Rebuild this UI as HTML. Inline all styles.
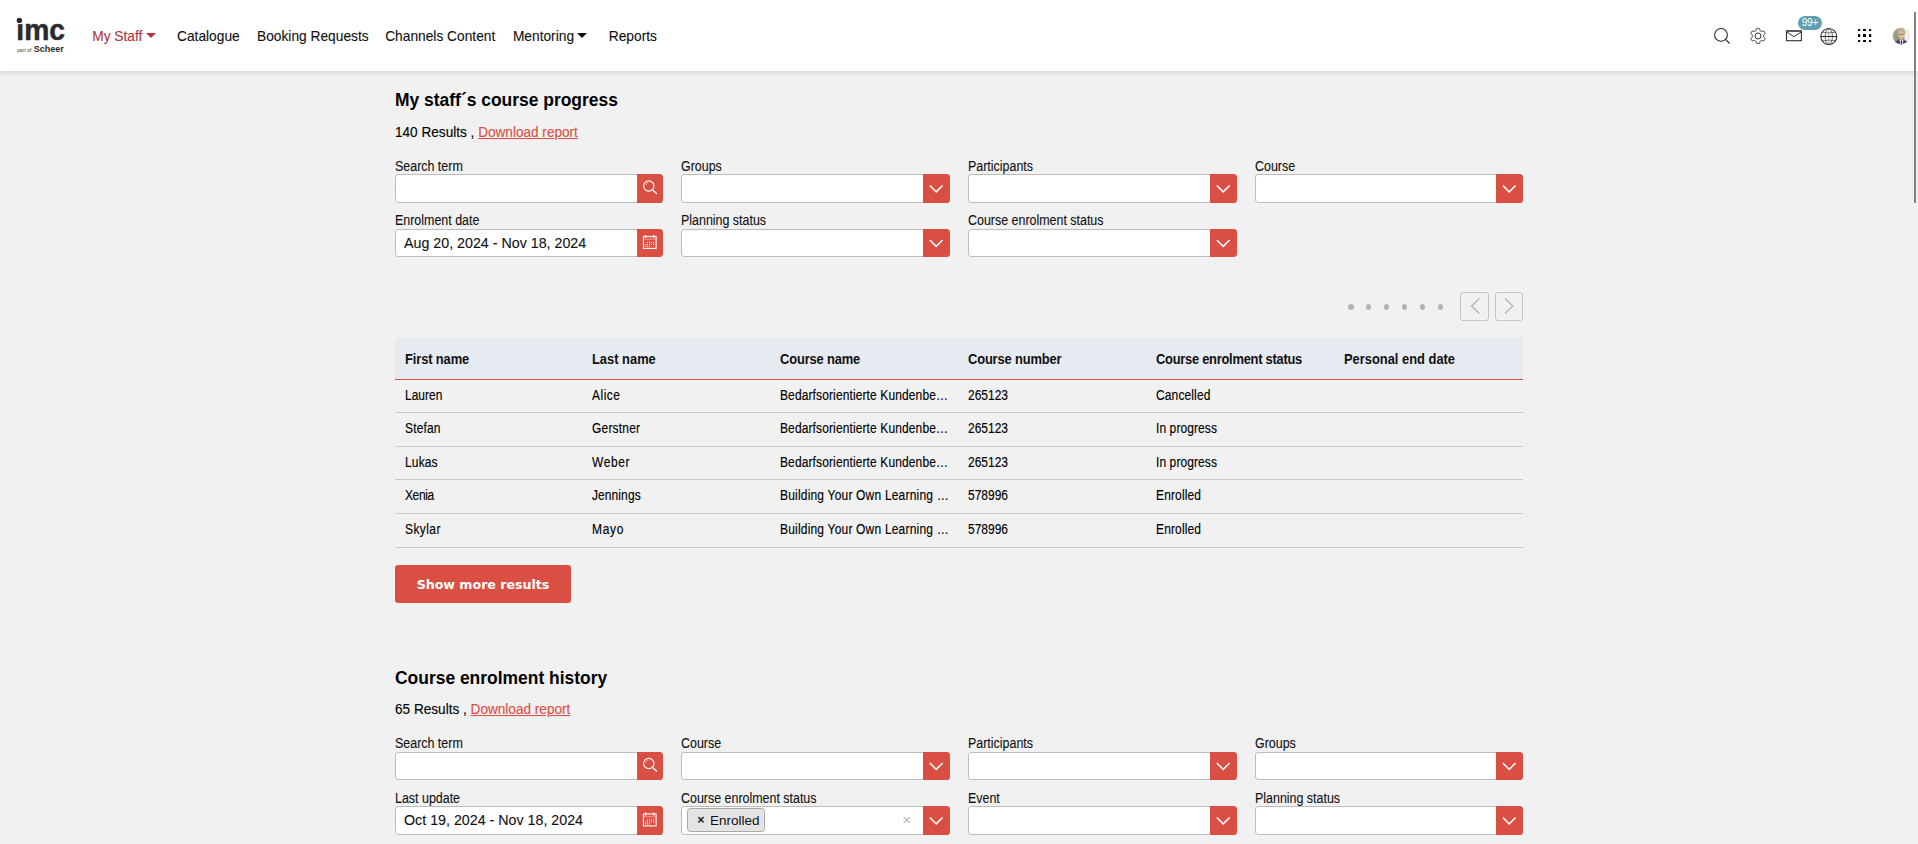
<!DOCTYPE html>
<html lang="en">
<head>
<meta charset="utf-8">
<title>My Staff</title>
<style>
*{box-sizing:border-box;margin:0;padding:0}
html,body{width:1918px;height:844px;overflow:hidden}
body{background:#f1f1f1;font-family:"Liberation Sans",Arial,sans-serif;color:#111;font-size:13.5px;position:relative}
/* header */
.hdr{position:absolute;left:0;top:0;width:1918px;height:71px;background:#fff;box-shadow:0 1px 6px rgba(0,0,0,.145);z-index:5}
.logo{position:absolute;left:0;top:0}
.nav{position:absolute;top:0;left:0;height:71px;font-size:13.75px;color:#1a1a1a}
.nav a{-webkit-text-stroke:.1px;position:absolute;top:29px;white-space:nowrap;line-height:16px;color:#111;text-decoration:none;}
.nav a.act{color:#b0343b}
.caret{display:inline-block;width:0;height:0;border-left:5px solid transparent;border-right:5px solid transparent;border-top:5.2px solid currentColor;vertical-align:middle;margin-left:3.4px;position:relative;top:-1.4px}
.ico{position:absolute}
.badge{position:absolute;left:1798px;top:16px;width:24px;height:14px;border-radius:7px;background:#5e9fb0;color:#fff;font-size:10px;line-height:13px;text-align:center;letter-spacing:-.1px}
.avatar{position:absolute;left:1892px;top:27px;width:18px;height:18px;border-radius:50%;overflow:hidden;background:#d9d6c8}
.sb{position:absolute;left:1914px;top:12px;width:2px;height:191px;background:#828282;z-index:9}
/* content */
.sec{position:absolute;left:395px;width:1128px}
h2{position:absolute;left:0;font-size:17.45px;font-weight:bold;line-height:20px;white-space:nowrap;color:#000;}
.res{position:absolute;left:0;transform:scaleY(1.03);transform-origin:0 12.5px;font-size:13.6px;line-height:16px;white-space:nowrap;color:#000;-webkit-text-stroke:.12px}
.res a{color:#d94f43;text-decoration:underline}
.fld{position:absolute;width:268.5px}
.fld label{-webkit-text-stroke:.1px;display:block;transform:scaleY(1.13);transform-origin:0 11px;font-size:12.45px;line-height:14px;color:#111;height:14px;white-space:nowrap}
.box{position:absolute;left:0;top:14px;width:100%;height:28.5px;background:#fff;border:1px solid #bcbcbc;border-radius:3.2px}
.btn{position:absolute;right:-1px;top:-1px;width:26px;height:29px;background:#d94f43;border-radius:0 3.6px 3.6px 0}
.btn svg{position:absolute;left:0;top:0;overflow:visible}
.val{-webkit-text-stroke:.1px;position:absolute;left:8px;top:0;line-height:27px;font-size:14.25px;color:#111;white-space:nowrap}

.pager{position:absolute;left:0;top:292px;width:1128px;height:29px}
.pager i{position:absolute;top:12px;width:6px;height:6px;border-radius:50%;background:#b3b3b3}
.pager b{position:absolute;top:0;width:29px;height:29px;border:1px solid #c4c4c4;border-radius:3px}
.pager b svg{position:absolute;left:-1px;top:-1px}
.tbl{position:absolute;left:0;top:338px;width:1128px}
.th{position:absolute;left:0;top:0;width:1128px;height:42px;background:#e6eaf1;border-bottom:1px solid #d94f43;font-weight:bold;font-size:12.9px}
.th span{position:absolute;top:14px;transform:scaleY(1.063);transform-origin:0 12.5px;line-height:16px;white-space:nowrap;color:#111}
.tr{position:absolute;left:0;width:1128px;border-bottom:1px solid #c9c9c9;font-size:12px}
.tr span{position:absolute;top:8px;transform:scaleY(1.143);transform-origin:0 12px;line-height:16px;white-space:nowrap;color:#000;-webkit-text-stroke:.12px}
.more{position:absolute;left:0;top:565px;width:176px;height:38px;background:#d94f43;border-radius:3px;color:#fff;font-family:"DejaVu Sans",sans-serif;font-weight:bold;font-size:12.6px;line-height:40px;text-align:center}
.tag{position:absolute;left:5.4px;top:1.3px;height:23.4px;border:1px solid #a9a9a9;border-radius:3.5px;background:#e4e4e4;font-size:13.5px;line-height:24.3px;padding:0 4.2px 0 0;color:#111;white-space:nowrap}
.tag em{font-style:normal;font-weight:bold;display:inline-block;width:21.6px;padding-left:4.5px;text-align:center;font-size:12.5px;border-right:1px solid #efe6e0;margin-right:0;color:#222;height:21px;line-height:22px;vertical-align:top}
.clr{position:absolute;right:38px;top:-.5px;line-height:26px;font-size:15px;color:#b0b4bb}
</style>
</head>
<body>
<div class="hdr">
  <svg class="logo" width="80" height="71" viewBox="0 0 80 71">
    <text x="16.3" y="40" font-family="Liberation Sans, sans-serif" font-weight="bold" font-size="29.6" fill="#2b2b2d" stroke="#2b2b2d" stroke-width=".55" textLength="48.7" lengthAdjust="spacingAndGlyphs">imc</text>
    <rect x="15.5" y="17" width="8" height="7.1" fill="#fff"/><circle cx="19.4" cy="20.4" r="2.7" fill="#2b2b2d"/>
    <text x="17" y="51.5" font-family="Liberation Sans, sans-serif" font-size="5.2" fill="#444" textLength="14.5" lengthAdjust="spacingAndGlyphs">part of</text>
    <text x="33.8" y="51.6" font-family="Liberation Sans, sans-serif" font-weight="bold" font-size="9.6" fill="#2b2b2d" textLength="30" lengthAdjust="spacingAndGlyphs">Scheer</text>
  </svg>
  <div class="nav">
    <a class="act" style="left:92.2px">My Staff<span class="caret"></span></a>
    <a style="left:177px">Catalogue</a>
    <a style="left:257px">Booking Requests</a>
    <a style="left:385.2px">Channels Content</a>
    <a style="left:512.9px">Mentoring<span class="caret"></span></a>
    <a style="left:608.8px">Reports</a>
  </div>
  <svg class="ico" style="left:0;top:0" width="1918" height="71" viewBox="0 0 1918 71" fill="none" stroke="#2e2e2e" stroke-width="1.1">
<circle cx="1721" cy="34.9" r="6.4"/><path d="M1725.5 39.4 L1729.6 43.5" stroke-width="1.2"/>
<path d="M1758.00 28.35 L1758.33 28.36 L1758.66 28.38 L1758.99 28.42 L1759.32 28.47 L1759.56 28.93 L1759.72 29.53 L1759.84 30.12 L1759.95 30.59 L1760.18 30.68 L1760.41 30.78 L1760.63 30.89 L1760.85 31.01 L1761.06 31.14 L1761.27 31.28 L1761.47 31.43 L1761.66 31.58 L1762.13 31.45 L1762.70 31.25 L1763.30 31.09 L1763.82 31.06 L1764.03 31.32 L1764.23 31.59 L1764.41 31.87 L1764.58 32.15 L1764.74 32.44 L1764.89 32.74 L1765.02 33.04 L1765.14 33.35 L1764.86 33.79 L1764.42 34.23 L1763.96 34.63 L1763.61 34.96 L1763.65 35.21 L1763.68 35.45 L1763.69 35.70 L1763.70 35.95 L1763.69 36.20 L1763.68 36.45 L1763.65 36.69 L1763.61 36.94 L1763.96 37.27 L1764.42 37.67 L1764.86 38.11 L1765.14 38.55 L1765.02 38.86 L1764.89 39.16 L1764.74 39.46 L1764.58 39.75 L1764.41 40.03 L1764.23 40.31 L1764.03 40.58 L1763.82 40.84 L1763.30 40.81 L1762.70 40.65 L1762.13 40.45 L1761.66 40.32 L1761.47 40.47 L1761.27 40.62 L1761.06 40.76 L1760.85 40.89 L1760.63 41.01 L1760.41 41.12 L1760.18 41.22 L1759.95 41.31 L1759.84 41.78 L1759.72 42.37 L1759.56 42.97 L1759.32 43.43 L1758.99 43.48 L1758.66 43.52 L1758.33 43.54 L1758.00 43.55 L1757.67 43.54 L1757.34 43.52 L1757.01 43.48 L1756.68 43.43 L1756.44 42.97 L1756.28 42.37 L1756.16 41.78 L1756.05 41.31 L1755.82 41.22 L1755.59 41.12 L1755.37 41.01 L1755.15 40.89 L1754.94 40.76 L1754.73 40.62 L1754.53 40.47 L1754.34 40.32 L1753.87 40.45 L1753.30 40.65 L1752.70 40.81 L1752.18 40.84 L1751.97 40.58 L1751.77 40.31 L1751.59 40.03 L1751.42 39.75 L1751.26 39.46 L1751.11 39.16 L1750.98 38.86 L1750.86 38.55 L1751.14 38.11 L1751.58 37.67 L1752.04 37.27 L1752.39 36.94 L1752.35 36.69 L1752.32 36.45 L1752.31 36.20 L1752.30 35.95 L1752.31 35.70 L1752.32 35.45 L1752.35 35.21 L1752.39 34.96 L1752.04 34.63 L1751.58 34.23 L1751.14 33.79 L1750.86 33.35 L1750.98 33.04 L1751.11 32.74 L1751.26 32.44 L1751.42 32.15 L1751.59 31.87 L1751.77 31.59 L1751.97 31.32 L1752.18 31.06 L1752.70 31.09 L1753.30 31.25 L1753.87 31.45 L1754.34 31.58 L1754.53 31.43 L1754.73 31.28 L1754.94 31.14 L1755.15 31.01 L1755.37 30.89 L1755.59 30.78 L1755.82 30.68 L1756.05 30.59 L1756.16 30.12 L1756.28 29.53 L1756.44 28.93 L1756.68 28.47 L1757.01 28.42 L1757.34 28.38 L1757.67 28.36 Z" stroke-linejoin="round" stroke-width="1"/><circle cx="1758" cy="35.95" r="3" stroke-width="1"/>
<rect x="1786.5" y="31" width="14.9" height="9.7" stroke-width="1.1"/><path d="M1786 31 H1802" stroke-width="1.8" stroke="#555"/><path d="M1786.8 32 L1793.9 36.7 L1801.2 32" stroke-width="1"/>
<circle cx="1828.8" cy="36.5" r="8"/><ellipse cx="1828.8" cy="36.5" rx="3.6" ry="8" stroke-width=".7"/><path d="M1820.8 36.5 H1836.8" stroke-width="1.1"/><path d="M1828.8 28.5 V44.5" stroke-width=".4"/><path d="M1822.3 32.2 Q1828.8 33.6 1835.3 32.2 M1822.3 40.8 Q1828.8 39.4 1835.3 40.8" stroke-width=".6"/>
<g fill="#000" stroke="none"><rect x="1858" y="29" width="2.2" height="2" rx=".5"/><rect x="1863" y="29" width="3" height="2" rx=".5"/><rect x="1869" y="29" width="2.2" height="2" rx=".5"/>
<rect x="1858" y="34" width="2.2" height="3" rx=".5"/><rect x="1863" y="34" width="3" height="3"/><rect x="1869" y="34" width="2.2" height="3" rx=".5"/>
<rect x="1858" y="40" width="2.2" height="2" rx=".5"/><rect x="1863" y="40" width="3" height="2" rx=".5"/><rect x="1869" y="40" width="2.2" height="2" rx=".5"/></g>
<g stroke="none"><clipPath id="av"><circle cx="1901" cy="36.1" r="8.3"/></clipPath>
<g clip-path="url(#av)"><rect x="1892" y="27" width="18" height="18" fill="#8d8d76"/><rect x="1892" y="27" width="5" height="18" fill="#9b9b8a"/><path d="M1904 27 H1911 V45 H1906 Q1903 36 1904 27 Z" fill="#f1f1e8"/>
<ellipse cx="1901.2" cy="32.6" rx="4.2" ry="4.4" fill="#bdb08c"/><ellipse cx="1901.4" cy="35.3" rx="3" ry="3.7" fill="#dfbfa2"/><path d="M1898.7 34.3 H1904.2" stroke="#6b5a4a" stroke-width=".7"/><path d="M1900.2 37.6 H1902.8" stroke="#b98c7c" stroke-width=".5"/>
<path d="M1892.5 46 L1895.3 41.2 Q1901.4 38.6 1907.5 41.2 L1910 46 Z" fill="#3d3b72"/><path d="M1899.6 39.8 L1903.3 39.8 L1902.7 46 L1900.3 46 Z" fill="#f4f4f4"/><path d="M1900.9 40.4 L1902 40.4 L1902.3 46 L1900.7 46 Z" fill="#23233f"/></g>
<circle cx="1901" cy="36.1" r="8.3" fill="none" stroke="#e9e9e4" stroke-width=".6"/></g>
</svg>
  <div class="badge">99+</div>
</div>
<div class="sb"></div>

<div class="sec" id="s1" style="top:0">
  <h2 style="top:90px">My staff´s course progress</h2>
  <div class="res" style="top:124.7px">140 Results , <a>Download report</a></div>
<div class="fld" style="left:0px;top:160px;width:268px"><label style="position:relative;top:0px">Search term</label><div class="box" style="height:29px"><div class="btn" style="height:29px;width:26px"><svg width="27" height="29" viewBox="0 0 27 29" ><g transform="translate(0,0.0)"><circle cx="11.8" cy="12" r="5.15" fill="none" stroke="#fff" stroke-width="1.1"/><path d="M15.6 15.9 L20 20" stroke="#fff" stroke-width="1.3" fill="none"/><path d="M8.9 11.2 A3.2 3.2 0 0 1 11.2 8.9" stroke="#fff" stroke-opacity=".7" stroke-width=".7" fill="none"/></g></svg></div></div></div>
<div class="fld" style="left:286px;top:160px;width:269px"><label style="position:relative;top:0px">Groups</label><div class="box" style="height:29px"><div class="btn" style="height:29px;width:27px"><svg width="27" height="29" viewBox="0 0 27 29" ><path transform="translate(0,0.0)" d="M6.8 11.5 L13.2 17.9 L19.6 11.5" fill="none" stroke="#fff" stroke-width="1.5"/></svg></div></div></div>
<div class="fld" style="left:573px;top:160px;width:269px"><label style="position:relative;top:0px">Participants</label><div class="box" style="height:29px"><div class="btn" style="height:29px;width:27px"><svg width="27" height="29" viewBox="0 0 27 29" ><path transform="translate(0,0.0)" d="M6.8 11.5 L13.2 17.9 L19.6 11.5" fill="none" stroke="#fff" stroke-width="1.5"/></svg></div></div></div>
<div class="fld" style="left:860px;top:160px;width:268px"><label style="position:relative;top:0px">Course</label><div class="box" style="height:29px"><div class="btn" style="height:29px;width:27px"><svg width="27" height="29" viewBox="0 0 27 29" ><path transform="translate(0,0.0)" d="M6.8 11.5 L13.2 17.9 L19.6 11.5" fill="none" stroke="#fff" stroke-width="1.5"/></svg></div></div></div>
<div class="fld" style="left:0px;top:215px;width:268px"><label style="position:relative;top:-1px">Enrolment date</label><div class="box" style="height:28px"><span class="val" style="line-height:26px">Aug 20, 2024 - Nov 18, 2024</span><div class="btn" style="height:28px;width:26px"><svg width="27" height="29" viewBox="0 0 27 29"><g transform="translate(0,-0.5)"><rect x="6.45" y="7.95" width="12.65" height="11.95" fill="none" stroke="#fff" stroke-width="1.1"/><rect x="7" y="9.9" width="11.6" height="1.7" fill="#fff" fill-opacity=".3"/><path d="M8.65 6.4 V9.6 M16.65 6.4 V9.6" stroke="#fff" stroke-width="1.4"/><g fill="#fff"><rect x="9.95" y="13.4" width="1.1" height="1.1"/><rect x="11.95" y="13.4" width="1.1" height="1.1"/><rect x="13.95" y="13.4" width="1.1" height="1.1"/><rect x="16.0" y="13.4" width="1.1" height="1.1"/><rect x="8.1" y="15.4" width="1.1" height="1.1"/><rect x="9.95" y="15.4" width="1.1" height="1.1"/><rect x="11.95" y="15.4" width="1.1" height="1.1"/><rect x="13.95" y="15.4" width="1.1" height="1.1"/><rect x="16.0" y="15.4" width="1.1" height="1.1"/><rect x="8.1" y="17.25" width="1.1" height="1.1"/><rect x="9.95" y="17.25" width="1.1" height="1.1"/><rect x="11.95" y="17.25" width="1.1" height="1.1"/></g></g></svg></div></div></div>
<div class="fld" style="left:286px;top:215px;width:269px"><label style="position:relative;top:-1px">Planning status</label><div class="box" style="height:28px"><div class="btn" style="height:28px;width:27px"><svg width="27" height="29" viewBox="0 0 27 29" ><path transform="translate(0,-0.5)" d="M6.8 11.5 L13.2 17.9 L19.6 11.5" fill="none" stroke="#fff" stroke-width="1.5"/></svg></div></div></div>
<div class="fld" style="left:573px;top:215px;width:269px"><label style="position:relative;top:-1px">Course enrolment status</label><div class="box" style="height:28px"><div class="btn" style="height:28px;width:27px"><svg width="27" height="29" viewBox="0 0 27 29" ><path transform="translate(0,-0.5)" d="M6.8 11.5 L13.2 17.9 L19.6 11.5" fill="none" stroke="#fff" stroke-width="1.5"/></svg></div></div></div>
<div class="pager"><i style="left:953.0px;width:6px"></i><i style="left:970.9px;width:5.2px"></i><i style="left:988.9px;width:5.2px"></i><i style="left:1006.9px;width:5.2px"></i><i style="left:1024.9px;width:5.2px"></i><i style="left:1042.9px;width:5.2px"></i><b style="left:1065px"><svg width="29" height="29" viewBox="0 0 29 29"><path d="M19.3 6.5 L11.6 14 L19.3 21.5" fill="none" stroke="#b5b5b5" stroke-width="1.4"/></svg></b><b style="left:1100px;width:28px"><svg width="29" height="29" viewBox="0 0 29 29"><path d="M10 6.5 L17.7 14 L10 21.5" fill="none" stroke="#b5b5b5" stroke-width="1.4"/></svg></b></div>
<div class="tbl">
<div class="th"><span style="left:10px;letter-spacing:-0.111px">First name</span><span style="left:197px">Last name</span><span style="left:385px;letter-spacing:-0.140px">Course name</span><span style="left:573px;letter-spacing:-0.150px">Course number</span><span style="left:761px;letter-spacing:-0.255px">Course enrolment status</span><span style="left:949px">Personal end date</span></div>
<div class="tr" style="top:42px;height:33px"><span style="left:10px">Lauren</span><span style="left:197px;letter-spacing:0.500px">Alice</span><span style="left:385px;letter-spacing:0.119px">Bedarfsorientierte Kundenbe…</span><span style="left:573px">265123</span><span style="left:761px;letter-spacing:0.125px">Cancelled</span></div>
<div class="tr" style="top:75px;height:34px"><span style="left:10px;letter-spacing:0.160px">Stefan</span><span style="left:197px;letter-spacing:0.186px">Gerstner</span><span style="left:385px;letter-spacing:0.119px">Bedarfsorientierte Kundenbe…</span><span style="left:573px">265123</span><span style="left:761px;letter-spacing:0.090px">In progress</span></div>
<div class="tr" style="top:109px;height:33px"><span style="left:10px;letter-spacing:0.150px">Lukas</span><span style="left:197px;letter-spacing:0.600px">Weber</span><span style="left:385px;letter-spacing:0.119px">Bedarfsorientierte Kundenbe…</span><span style="left:573px">265123</span><span style="left:761px;letter-spacing:0.090px">In progress</span></div>
<div class="tr" style="top:142px;height:34px"><span style="left:10px;letter-spacing:-0.400px">Xenia</span><span style="left:197px;letter-spacing:0.086px">Jennings</span><span style="left:385px;letter-spacing:0.193px">Building Your Own Learning …</span><span style="left:573px">578996</span><span style="left:761px;letter-spacing:0.143px">Enrolled</span></div>
<div class="tr" style="top:176px;height:34px"><span style="left:10px;letter-spacing:0.420px">Skylar</span><span style="left:197px;letter-spacing:0.700px">Mayo</span><span style="left:385px;letter-spacing:0.193px">Building Your Own Learning …</span><span style="left:573px">578996</span><span style="left:761px;letter-spacing:0.143px">Enrolled</span></div>
</div>
<div class="more">Show more results</div>
</div>
<div class="sec" id="s2" style="top:577px">
  <h2 style="top:91px">Course enrolment history</h2>
  <div class="res" style="top:124.7px">65 Results , <a>Download report</a></div>
<div class="fld" style="left:0px;top:161px;width:268px"><label style="position:relative;top:-0.6px">Search term</label><div class="box" style="height:28px"><div class="btn" style="height:28px;width:26px"><svg width="27" height="29" viewBox="0 0 27 29" ><g transform="translate(0,-0.5)"><circle cx="11.8" cy="12" r="5.15" fill="none" stroke="#fff" stroke-width="1.1"/><path d="M15.6 15.9 L20 20" stroke="#fff" stroke-width="1.3" fill="none"/><path d="M8.9 11.2 A3.2 3.2 0 0 1 11.2 8.9" stroke="#fff" stroke-opacity=".7" stroke-width=".7" fill="none"/></g></svg></div></div></div>
<div class="fld" style="left:286px;top:161px;width:269px"><label style="position:relative;top:-0.6px">Course</label><div class="box" style="height:28px"><div class="btn" style="height:28px;width:27px"><svg width="27" height="29" viewBox="0 0 27 29" ><path transform="translate(0,-0.5)" d="M6.8 11.5 L13.2 17.9 L19.6 11.5" fill="none" stroke="#fff" stroke-width="1.5"/></svg></div></div></div>
<div class="fld" style="left:573px;top:161px;width:269px"><label style="position:relative;top:-0.6px">Participants</label><div class="box" style="height:28px"><div class="btn" style="height:28px;width:27px"><svg width="27" height="29" viewBox="0 0 27 29" ><path transform="translate(0,-0.5)" d="M6.8 11.5 L13.2 17.9 L19.6 11.5" fill="none" stroke="#fff" stroke-width="1.5"/></svg></div></div></div>
<div class="fld" style="left:860px;top:161px;width:268px"><label style="position:relative;top:-0.6px">Groups</label><div class="box" style="height:28px"><div class="btn" style="height:28px;width:27px"><svg width="27" height="29" viewBox="0 0 27 29" ><path transform="translate(0,-0.5)" d="M6.8 11.5 L13.2 17.9 L19.6 11.5" fill="none" stroke="#fff" stroke-width="1.5"/></svg></div></div></div>
<div class="fld" style="left:0px;top:215px;width:268px"><label style="position:relative;top:0px">Last update</label><div class="box" style="height:29px"><span class="val" style="line-height:27px">Oct 19, 2024 - Nov 18, 2024</span><div class="btn" style="height:29px;width:26px"><svg width="27" height="29" viewBox="0 0 27 29"><g transform="translate(0,0.0)"><rect x="6.45" y="7.95" width="12.65" height="11.95" fill="none" stroke="#fff" stroke-width="1.1"/><rect x="7" y="9.9" width="11.6" height="1.7" fill="#fff" fill-opacity=".3"/><path d="M8.65 6.4 V9.6 M16.65 6.4 V9.6" stroke="#fff" stroke-width="1.4"/><g fill="#fff"><rect x="9.95" y="13.4" width="1.1" height="1.1"/><rect x="11.95" y="13.4" width="1.1" height="1.1"/><rect x="13.95" y="13.4" width="1.1" height="1.1"/><rect x="16.0" y="13.4" width="1.1" height="1.1"/><rect x="8.1" y="15.4" width="1.1" height="1.1"/><rect x="9.95" y="15.4" width="1.1" height="1.1"/><rect x="11.95" y="15.4" width="1.1" height="1.1"/><rect x="13.95" y="15.4" width="1.1" height="1.1"/><rect x="16.0" y="15.4" width="1.1" height="1.1"/><rect x="8.1" y="17.25" width="1.1" height="1.1"/><rect x="9.95" y="17.25" width="1.1" height="1.1"/><rect x="11.95" y="17.25" width="1.1" height="1.1"/></g></g></svg></div></div></div>
<div class="fld" style="left:286px;top:215px;width:269px"><label style="position:relative;top:0px">Course enrolment status</label><div class="box" style="height:29px"><span class="tag"><em>×</em>Enrolled</span><span class="clr">×</span><div class="btn" style="height:29px;width:27px"><svg width="27" height="29" viewBox="0 0 27 29" ><path transform="translate(0,0.0)" d="M6.8 11.5 L13.2 17.9 L19.6 11.5" fill="none" stroke="#fff" stroke-width="1.5"/></svg></div></div></div>
<div class="fld" style="left:573px;top:215px;width:269px"><label style="position:relative;top:0px">Event</label><div class="box" style="height:29px"><div class="btn" style="height:29px;width:27px"><svg width="27" height="29" viewBox="0 0 27 29" ><path transform="translate(0,0.0)" d="M6.8 11.5 L13.2 17.9 L19.6 11.5" fill="none" stroke="#fff" stroke-width="1.5"/></svg></div></div></div>
<div class="fld" style="left:860px;top:215px;width:268px"><label style="position:relative;top:0px">Planning status</label><div class="box" style="height:29px"><div class="btn" style="height:29px;width:27px"><svg width="27" height="29" viewBox="0 0 27 29" ><path transform="translate(0,0.0)" d="M6.8 11.5 L13.2 17.9 L19.6 11.5" fill="none" stroke="#fff" stroke-width="1.5"/></svg></div></div></div>
</div>
</body>
</html>
